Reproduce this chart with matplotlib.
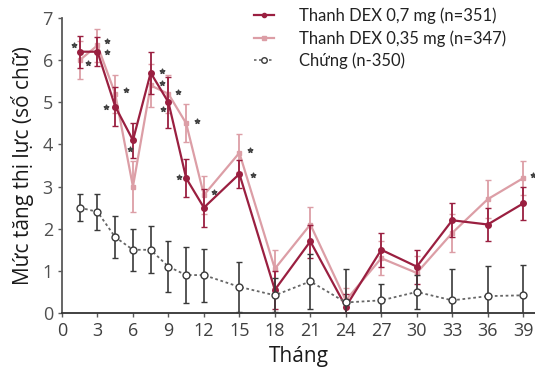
import matplotlib
matplotlib.use("Agg")
import matplotlib.pyplot as plt
from matplotlib.lines import Line2D

# Data
months = [1.5, 3, 4.5, 6, 7.5, 9, 10.5, 12, 15, 18, 21, 24, 27, 30, 33, 36, 39]
dex07 = [6.2, 6.2, 4.9, 4.1, 5.7, 5.0, 3.2, 2.5, 3.3, 0.55, 1.7, 0.15, 1.5, 1.1, 2.2, 2.1, 2.6]
dex07_err = [0.38, 0.35, 0.46, 0.42, 0.5, 0.6, 0.45, 0.45, 0.33, 0.45, 0.4, 0.3, 0.4, 0.4, 0.4, 0.4, 0.4]
dex035 = [6.0, 6.35, 5.2, 3.0, 5.4, 5.2, 4.5, 2.8, 3.8, 1.05, 2.1, 0.3, 1.3, 0.95, 1.9, 2.7, 3.2]
dex035_err = [0.45, 0.4, 0.45, 0.6, 0.5, 0.45, 0.45, 0.45, 0.45, 0.45, 0.42, 0.3, 0.4, 0.4, 0.45, 0.45, 0.4]
control = [2.5, 2.4, 1.8, 1.5, 1.5, 1.1, 0.9, 0.9, 0.62, 0.42, 0.75, 0.25, 0.3, 0.5, 0.3, 0.4, 0.42]
control_err = [0.32, 0.42, 0.5, 0.5, 0.56, 0.6, 0.66, 0.63, 0.6, 0.4, 0.65, 0.8, 0.38, 0.4, 0.75, 0.72, 0.72]
stars_x = [1.0, 2.2, 3.8, 3.8, 3.7, 5.4, 5.75, 8.45, 8.45, 9.8, 8.55, 11.4, 9.9, 12.85, 15.9, 16.15, 39.8]
stars_y = [6.37, 5.94, 6.45, 6.2, 4.9, 5.3, 3.9, 5.75, 5.46, 5.25, 4.85, 4.56, 3.23, 2.87, 3.87, 3.28, 3.28]
xticks = list(range(0, 40, 3))
yticks = list(range(0, 8))
labels = ["Thanh DEX 0,7 mg (n=351)", "Thanh DEX 0,35 mg (n=347)", "Chứng (n-350)"]

plt.rcParams["font.family"] = ["Open Sans", "DejaVu Sans"]

dark = "#9a1f40"
light = "#dc9ea6"
gray = "#595959"
ctrl = "#3a3a3a"

fig = plt.figure(figsize=(5.35, 3.7), dpi=100)
ax = fig.add_axes([62 / 535, 1 - 313 / 370, 473 / 535, 295 / 370])

ax.errorbar(months, dex035, yerr=dex035_err, color=light, marker="s", markersize=3.5,
            lw=1.6, capsize=2.5, elinewidth=1.3, zorder=2)
ax.errorbar(months, dex07, yerr=dex07_err, color=dark, marker="o", markersize=4,
            lw=1.6, capsize=2.5, elinewidth=1.3, zorder=3)
ax.errorbar(months, control, yerr=control_err, color="#666666", ls=(0, (1.5, 1.5)), lw=1.3,
            marker="o", markersize=5, mfc="white", mec=ctrl, mew=1.0,
            capsize=2.5, elinewidth=1.2, ecolor=ctrl, zorder=4)
ax.scatter(stars_x, stars_y, marker="*", s=12, color="#444444", zorder=5, clip_on=False)

ax.set_xlim(0, 40)
ax.set_ylim(0, 7)
ax.set_xticks(xticks)
ax.set_yticks(yticks)
ax.tick_params(axis="both", colors=gray, length=3, width=1)
ax.tick_params(axis="x", labelcolor="#404040", labelsize=13)
ax.tick_params(axis="y", labelcolor="#505050", labelsize=13)
for s in ["top", "right"]:
    ax.spines[s].set_visible(False)
ax.spines["left"].set_color(gray)
ax.spines["bottom"].set_color("#333333")
ax.spines["left"].set_linewidth(1.3)
ax.spines["bottom"].set_linewidth(1.3)

ax.set_xlabel("Tháng", fontsize=15, color="#1a1a1a", labelpad=4)
ax.set_ylabel("Mức tăng thị lực (số chữ)", fontsize=15, color="#1a1a1a", labelpad=6)

handles = [
    Line2D([], [], color=dark, lw=1.6, marker="o", markersize=3),
    Line2D([], [], color=light, lw=1.6, marker="s", markersize=2.5),
    Line2D([], [], color="#666666", lw=1.2, ls=(0, (1.5, 1.5)), marker="o", markersize=4,
           mfc="white", mec=ctrl),
]
leg = ax.legend(handles, labels, loc="upper left",
                bbox_to_anchor=(272 / 535 - 62 / 535, 1 + 17 / 295),
                bbox_transform=ax.transAxes, frameon=False, borderaxespad=0,
                prop={"family": "Lato", "size": 12},
                handlelength=1.2, handletextpad=1.5, labelspacing=0.35)
for t in leg.get_texts():
    t.set_color("#222222")

fig.savefig("out.png", dpi=100)
